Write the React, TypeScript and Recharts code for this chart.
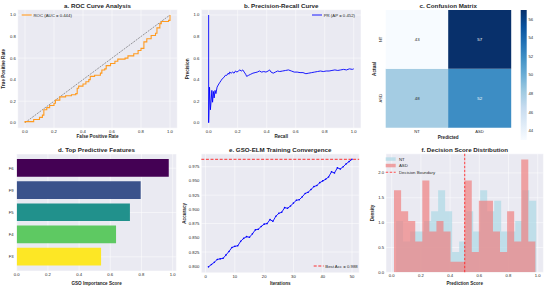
import React from 'react';
import {
  LineChart, Line, BarChart, Bar, Cell, LabelList, ComposedChart, Area,
  XAxis, YAxis, CartesianGrid, ReferenceLine,
} from 'recharts';

const FONT = "'Liberation Sans', Arial, sans-serif";
const INK = '#262626';
const PANEL_BG = '#eaeaf2';

// a. ROC curve, step points
const rocFpr = [0, 0, 0.06, 0.10, 0.12, 0.13, 0.15, 0.17, 0.20, 0.21, 0.24, 0.28, 0.32, 0.35, 0.36, 0.37, 0.40, 0.42, 0.44, 0.45, 0.48, 0.52, 0.53, 0.55, 0.56, 0.59, 0.62, 0.64, 0.69, 0.71, 0.75, 0.78, 0.80, 0.82, 0.84, 0.87, 0.90, 0.91, 0.93, 0.94, 0.99, 1.00];
const rocTpr = [0, 0.01, 0.03, 0.05, 0.07, 0.12, 0.14, 0.16, 0.18, 0.21, 0.24, 0.25, 0.26, 0.27, 0.32, 0.34, 0.36, 0.38, 0.40, 0.43, 0.44, 0.46, 0.49, 0.50, 0.53, 0.55, 0.57, 0.59, 0.60, 0.62, 0.64, 0.67, 0.69, 0.75, 0.78, 0.81, 0.83, 0.88, 0.92, 0.94, 0.95, 1.00];
const rocAuc = 0.444;

// b. precision-recall curve
const prRecall = [0, 0, 0.006, 0.012, 0.018, 0.022, 0.027, 0.033, 0.038, 0.044, 0.05, 0.058, 0.066, 0.075, 0.085, 0.095, 0.105, 0.115, 0.125, 0.135, 0.14, 0.145, 0.155, 0.165, 0.175, 0.185, 0.195, 0.205, 0.215, 0.225, 0.235, 0.245, 0.255, 0.262, 0.275, 0.29, 0.305, 0.32, 0.335, 0.35, 0.365, 0.38, 0.395, 0.41, 0.42, 0.43, 0.445, 0.46, 0.475, 0.49, 0.51, 0.53, 0.55, 0.57, 0.59, 0.61, 0.63, 0.65, 0.67, 0.69, 0.71, 0.73, 0.75, 0.77, 0.79, 0.81, 0.83, 0.85, 0.87, 0.89, 0.91, 0.93, 0.95, 0.97, 0.99, 1.0];
const prPrecision = [1.0, 0.0, 0.33, 0.12, 0.22, 0.30, 0.19, 0.29, 0.23, 0.30, 0.27, 0.33, 0.35, 0.37, 0.39, 0.41, 0.42, 0.44, 0.44, 0.46, 0.45, 0.47, 0.46, 0.47, 0.46, 0.48, 0.47, 0.48, 0.49, 0.48, 0.49, 0.47, 0.45, 0.43, 0.44, 0.45, 0.46, 0.465, 0.47, 0.48, 0.47, 0.475, 0.47, 0.48, 0.49, 0.47, 0.46, 0.47, 0.48, 0.475, 0.48, 0.485, 0.49, 0.48, 0.47, 0.47, 0.465, 0.465, 0.455, 0.46, 0.465, 0.47, 0.475, 0.48, 0.475, 0.48, 0.48, 0.485, 0.49, 0.485, 0.49, 0.495, 0.49, 0.5, 0.495, 0.5];
const prAp = 0.452;

// c. confusion matrix (rows = actual, columns = predicted)
const cmLabels = ['NT', 'ASD'];
const cmActualNT = [43, 57];
const cmActualASD = [48, 52];
const cbTicks = [44, 46, 48, 50, 52, 54, 56];

// d. feature importance
const featureNames = ['F6', 'F9', 'F5', 'F4', 'F3'];
const featureScores = [0.975, 0.795, 0.726, 0.637, 0.541];
const featureColors = ['#440154', '#3b528b', '#21918c', '#5ec962', '#fde725'];

// e. GSO-ELM accuracy per iteration (1..50)
const gsoAccuracy = [
  0.799, 0.803, 0.807, 0.812, 0.813, 0.814, 0.820, 0.826, 0.833, 0.835,
  0.836, 0.844, 0.849, 0.852, 0.851, 0.857, 0.864, 0.865, 0.870, 0.874,
  0.875, 0.882, 0.879, 0.888, 0.893, 0.895, 0.903, 0.902, 0.906, 0.911,
  0.916, 0.917, 0.922, 0.928, 0.930, 0.935, 0.940, 0.942, 0.947, 0.950,
  0.953, 0.957, 0.966, 0.964, 0.973, 0.971, 0.975, 0.980, 0.984, 0.988,
];
const bestAcc = 0.988;

// f. score histograms (20 bins each, density)
const ntRange = [0.03, 0.99];
const ntDensity = [1.03, 0.62, 0.82, 0.82, 1.03, 1.23, 1.65, 1.23, 0.41, 0.62, 1.23, 0.82, 1.65, 1.23, 1.44, 0.82, 0.82, 1.03, 1.65, 1.44];
const asdRange = [0.016, 0.984];
const asdDensity = [1.65, 1.23, 1.03, 0.62, 1.85, 0.82, 1.03, 0.82, 0.21, 0.21, 1.85, 0.41, 1.44, 1.44, 0.82, 0.41, 1.23, 0.62, 2.27, 0.62];
const decisionBoundary = 0.5;

const unitTicks = [0, 0.2, 0.4, 0.6, 0.8, 1.0];
const accTicks = [0.8, 0.825, 0.85, 0.875, 0.9, 0.925, 0.95, 0.975];
const iterTicks = [0, 10, 20, 30, 40, 50];
const densityTicks = [0, 0.5, 1.0, 1.5, 2.0];

// ---- derived tables ----
const rocData = rocFpr.map((fpr, i) => ({ fpr, tpr: rocTpr[i] }));
const prData = prRecall.map((recall, i) => ({ recall, precision: prPrecision[i] }));
const cmData = cmLabels.map((pred, j) => ({ pred, nt: cmActualNT[j], asd: cmActualASD[j] }));
const featData = featureNames.map((name, i) => ({ name, score: featureScores[i] }));
const gsoData = gsoAccuracy.map((acc, i) => ({ iter: i + 1, acc }));

function binEdges([lo, hi]: number[], n: number) {
  return Array.from({ length: n + 1 }, (_, i) => lo + (i * (hi - lo)) / n);
}
function densityAt(range: number[], dens: number[], x: number) {
  const [lo, hi] = range;
  if (x < lo - 1e-9 || x >= hi - 1e-9) return 0;
  const w = (hi - lo) / dens.length;
  return dens[Math.min(dens.length - 1, Math.floor((x - lo) / w + 1e-9))];
}
const histX = [...binEdges(ntRange, ntDensity.length), ...binEdges(asdRange, asdDensity.length)].sort((a, b) => a - b);
const histData = histX.map((x) => ({
  x,
  nt: densityAt(ntRange, ntDensity, x),
  asd: densityAt(asdRange, asdDensity, x),
}));

// matplotlib "Blues"
const BLUES = ['#f7fbff', '#deebf7', '#c6dbef', '#9ecae1', '#6baed6', '#4292c6', '#2171b5', '#08519c', '#08306b'];
const cmMin = Math.min(...cmActualNT, ...cmActualASD);
const cmMax = Math.max(...cmActualNT, ...cmActualASD);
const hexRgb = (h: string) => [1, 3, 5].map((k) => parseInt(h.slice(k, k + 2), 16));
function blues(v: number) {
  const t = Math.min(Math.max((v - cmMin) / (cmMax - cmMin), 0), 1);
  const p = t * (BLUES.length - 1);
  const i = Math.min(Math.floor(p), BLUES.length - 2);
  const f = p - i;
  const a = hexRgb(BLUES[i]);
  const b = hexRgb(BLUES[i + 1]);
  const c = a.map((ch, k) => Math.round(ch + (b[k] - ch) * f));
  return `rgb(${c[0]},${c[1]},${c[2]})`;
}

// ---- shared styling ----
const tickStyle = { fontSize: 4.2, fill: INK, fontFamily: FONT };
const labelStyle = { fontSize: 4.6, fontWeight: 700, fill: INK, fontFamily: FONT, textAnchor: 'middle' as const };
const xLabel = (value: string, offset: number) => ({ value, position: 'insideBottom' as const, offset, style: labelStyle });
const yLabel = (value: string, offset: number) => ({ value, angle: -90, position: 'insideLeft' as const, offset, style: labelStyle });
const axisBase = { axisLine: false, tickLine: false, tickSize: 0, tick: tickStyle, allowDataOverflow: true };
const fmt1 = (v: number) => v.toFixed(1);

function Box({ left, top, children }: { left: number; top: number; children: React.ReactNode }) {
  return <div style={{ position: 'absolute', left, top }}>{children}</div>;
}

function ActualTick({ x, y, payload }: any) {
  const label = payload.value > 1 ? cmLabels[0] : cmLabels[1];
  return (
    <text x={x} y={y} transform={`rotate(-90 ${x} ${y})`} textAnchor="middle" fontSize={4.2} fill={INK} fontFamily={FONT}>
      {label}
    </text>
  );
}

function CountLabel(props: any) {
  const { x, y, width, height, value } = props;
  const dark = (value - cmMin) / (cmMax - cmMin) > 0.5;
  return (
    <text x={x + width / 2} y={y + height / 2} textAnchor="middle" dominantBaseline="central"
      fontSize={4.4} fill={dark ? '#ffffff' : INK} fontFamily={FONT}>
      {value}
    </text>
  );
}

function RocChart() {
  return (
    <LineChart width={182} height={140} data={rocData} margin={{ top: 9.6, right: 4.75, bottom: 0, left: 0 }}>
      <CartesianGrid fill={PANEL_BG} stroke="#ffffff" strokeWidth={0.5} />
      <XAxis type="number" dataKey="fpr" domain={[-0.05, 1.05]} ticks={unitTicks} tickFormatter={fmt1}
        height={11.9} tickMargin={2} label={xLabel('False Positive Rate', 1.6)} {...axisBase} />
      <YAxis type="number" domain={[-0.05, 1.05]} ticks={unitTicks} tickFormatter={fmt1}
        width={17.75} tickMargin={2} label={yLabel('True Positive Rate', 3.5)} {...axisBase} />
      <ReferenceLine segment={[{ x: 0, y: 0 }, { x: 1, y: 1 }]} stroke="#3a3a3a" strokeWidth={0.5} strokeDasharray="2 1" />
      <Line type="stepAfter" dataKey="tpr" stroke="#ff9a1f" strokeWidth={1.1} dot={false} isAnimationActive={false} />
    </LineChart>
  );
}

function PrChart() {
  return (
    <LineChart width={182} height={140} data={prData} margin={{ top: 9.6, right: 3, bottom: 0, left: 0 }}>
      <CartesianGrid fill={PANEL_BG} stroke="#ffffff" strokeWidth={0.5} />
      <XAxis type="number" dataKey="recall" domain={[-0.05, 1.05]} ticks={unitTicks} tickFormatter={fmt1}
        height={11.9} tickMargin={2} label={xLabel('Recall', 1.6)} {...axisBase} />
      <YAxis type="number" domain={[-0.05, 1.05]} ticks={unitTicks} tickFormatter={fmt1}
        width={19.4} tickMargin={2} label={yLabel('Precision', 5)} {...axisBase} />
      <Line type="linear" dataKey="precision" stroke="#0000ff" strokeWidth={0.9} dot={false} isAnimationActive={false} />
    </LineChart>
  );
}

function ConfusionChart() {
  return (
    <BarChart width={150} height={140} data={cmData} margin={{ top: 10, right: 3.3, bottom: 0, left: 0 }}
      barCategoryGap={0} barGap={0}>
      <XAxis dataKey="pred" type="category" height={12.3} axisLine={false} tickLine={false} tickSize={0}
        tickMargin={2.5} tick={tickStyle} label={xLabel('Predicted', 1.3)} />
      <YAxis type="number" domain={[0, 2]} ticks={[0.5, 1.5]} width={21.7} axisLine={false} tickLine={false}
        tickSize={0} tickMargin={4} tick={(p: any) => <ActualTick {...p} />} label={yLabel('Actual', 10)} />
      <Bar dataKey={() => 1} stackId="cm" isAnimationActive={false}>
        {cmData.map((d, i) => <Cell key={i} fill={blues(d.asd)} />)}
        <LabelList dataKey="asd" content={CountLabel} />
      </Bar>
      <Bar dataKey={() => 1} stackId="cm" isAnimationActive={false}>
        {cmData.map((d, i) => <Cell key={i} fill={blues(d.nt)} />)}
        <LabelList dataKey="nt" content={CountLabel} />
      </Bar>
    </BarChart>
  );
}

function ColorBar() {
  return (
    <BarChart width={32} height={140} data={[{ lo: cmMin, hi: cmMax }]} margin={{ top: 10, right: 0, bottom: 0, left: 6.7 }}
      barCategoryGap={0}>
      <defs>
        <linearGradient id="bluesBar" x1="0" y1="0" x2="0" y2="1">
          {[...BLUES].reverse().map((c, i) => (
            <stop key={i} offset={i / (BLUES.length - 1)} stopColor={c} />
          ))}
        </linearGradient>
      </defs>
      <XAxis hide />
      <YAxis orientation="right" type="number" domain={[cmMin, cmMax]} ticks={cbTicks} width={19.7}
        axisLine={false} tickLine={false} tickSize={0} tickMargin={2.2} tick={tickStyle} allowDataOverflow />
      <Bar dataKey={(d: any) => [d.lo, d.hi]} fill="url(#bluesBar)" isAnimationActive={false} />
    </BarChart>
  );
}

function FeatureChart() {
  return (
    <BarChart layout="vertical" width={182} height={148} data={featData} margin={{ top: 14, right: 5.6, bottom: 0, left: 0 }}>
      <CartesianGrid fill={PANEL_BG} stroke="#ffffff" strokeWidth={0.5} />
      <XAxis type="number" dataKey="score" domain={[0, 1.024]} ticks={unitTicks} tickFormatter={fmt1}
        height={17} tickMargin={2} label={xLabel('GSO Importance Score', 3.4)} {...axisBase} />
      <YAxis type="category" dataKey="name" width={16.7} padding={{ top: 3.1, bottom: 3.1 }}
        axisLine={false} tickLine={false} tickSize={0} tickMargin={3} tick={tickStyle} />
      <Bar dataKey="score" barSize={17.7} isAnimationActive={false}>
        {featData.map((d, i) => <Cell key={d.name} fill={featureColors[i]} />)}
      </Bar>
    </BarChart>
  );
}

function ConvergenceChart() {
  return (
    <LineChart width={182} height={148} data={gsoData} margin={{ top: 13.9, right: 4.8, bottom: 0, left: 0 }}>
      <CartesianGrid fill={PANEL_BG} stroke="#ffffff" strokeWidth={0.5} />
      <XAxis type="number" dataKey="iter" domain={[-1.45, 52.45]} ticks={iterTicks}
        height={15.2} tickMargin={2} label={xLabel('Iterations', 3)} {...axisBase} />
      <YAxis type="number" domain={[0.7885, 0.9975]} ticks={accTicks} tickFormatter={(v: number) => v.toFixed(3)}
        width={19.3} tickMargin={2} label={yLabel('Accuracy', 2.5)} {...axisBase} />
      <ReferenceLine y={bestAcc} stroke="#ff0000" strokeWidth={0.8} strokeDasharray="3 1.6" />
      <Line type="linear" dataKey="acc" stroke="#0000ff" strokeWidth={0.9}
        dot={{ r: 0.8, fill: '#0000ff', stroke: 'none' }} isAnimationActive={false} />
    </LineChart>
  );
}

function ScoreHistogram() {
  return (
    <ComposedChart width={182} height={148} data={histData} margin={{ top: 13.8, right: 2.6, bottom: 0, left: 0 }}>
      <CartesianGrid fill={PANEL_BG} stroke="#ffffff" strokeWidth={0.5} />
      <XAxis type="number" dataKey="x" domain={[-0.039, 1.039]} ticks={unitTicks} tickFormatter={fmt1}
        height={15.7} tickMargin={2} label={xLabel('Prediction Score', 3)} {...axisBase} />
      <YAxis type="number" domain={[0, 2.385]} ticks={densityTicks} tickFormatter={fmt1}
        width={22} tickMargin={2} label={yLabel('Density', 8.3)} {...axisBase} />
      <Area type="stepAfter" dataKey="nt" fill="#add8e6" fillOpacity={0.7} stroke="none" isAnimationActive={false} />
      <Area type="stepAfter" dataKey="asd" fill="#f08080" fillOpacity={0.7} stroke="none" isAnimationActive={false} />
      <ReferenceLine x={decisionBoundary} stroke="#ff2020" strokeOpacity={0.8} strokeWidth={1.1} strokeDasharray="2.5 1.5" />
    </ComposedChart>
  );
}

const titleProps = { textAnchor: 'middle' as const, dominantBaseline: 'central' as const, fontSize: 6.2, fontWeight: 700, fill: INK, fontFamily: FONT };
const legendText = { dominantBaseline: 'central' as const, fontSize: 4.3, fill: INK, fontFamily: FONT };

export default function App() {
  return (
    <div style={{ position: 'absolute', left: 0, top: 0, width: 546, height: 288, background: '#ffffff', overflow: 'hidden' }}>
      <Box left={0} top={0}><RocChart /></Box>
      <Box left={182} top={0}><PrChart /></Box>
      <Box left={364} top={0}><ConfusionChart /></Box>
      <Box left={514} top={0}><ColorBar /></Box>
      <Box left={0} top={140}><FeatureChart /></Box>
      <Box left={182} top={140}><ConvergenceChart /></Box>
      <Box left={364} top={140}><ScoreHistogram /></Box>

      <svg width={546} height={288} style={{ position: 'absolute', left: 0, top: 0, pointerEvents: 'none' }}>
        <text x={97.5} y={5.2} {...titleProps}>a. ROC Curve Analysis</text>
        <text x={281.2} y={5.2} {...titleProps}>b. Precision-Recall Curve</text>
        <text x={448.2} y={5.2} {...titleProps}>c. Confusion Matrix</text>
        <text x={96.5} y={149.5} {...titleProps}>d. Top Predictive Features</text>
        <text x={280.2} y={149.5} {...titleProps}>e. GSO-ELM Training Convergence</text>
        <text x={464.7} y={149.5} {...titleProps}>f. Decision Score Distribution</text>

        <line x1={21.7} x2={31.7} y1={15} y2={15} stroke="#ff9a1f" strokeWidth={1.1} />
        <text x={33.5} y={15} {...legendText}>{`ROC (AUC = ${rocAuc.toFixed(3)})`}</text>

        <line x1={312} x2={322} y1={15} y2={15} stroke="#0000ff" strokeWidth={0.9} />
        <text x={323.7} y={15} {...legendText}>{`PR (AP = ${prAp.toFixed(3)})`}</text>

        <line x1={313.7} x2={323.7} y1={266} y2={266} stroke="#ff0000" strokeWidth={0.8} strokeDasharray="3 1.6" />
        <text x={325.3} y={266} {...legendText}>{`Best Acc = ${bestAcc.toFixed(3)}`}</text>

        <rect x={385.7} y={157.3} width={10} height={3.5} fill="#add8e6" fillOpacity={0.7} />
        <text x={399} y={159} {...legendText}>NT</text>
        <rect x={385.7} y={163.8} width={10} height={3.5} fill="#f08080" fillOpacity={0.7} />
        <text x={399} y={165.5} {...legendText}>ASD</text>
        <line x1={385.7} x2={395.7} y1={172.2} y2={172.2} stroke="#ff2020" strokeOpacity={0.8} strokeWidth={1.1} strokeDasharray="2.5 1.5" />
        <text x={399} y={172.2} {...legendText}>Decision Boundary</text>
      </svg>
    </div>
  );
}
